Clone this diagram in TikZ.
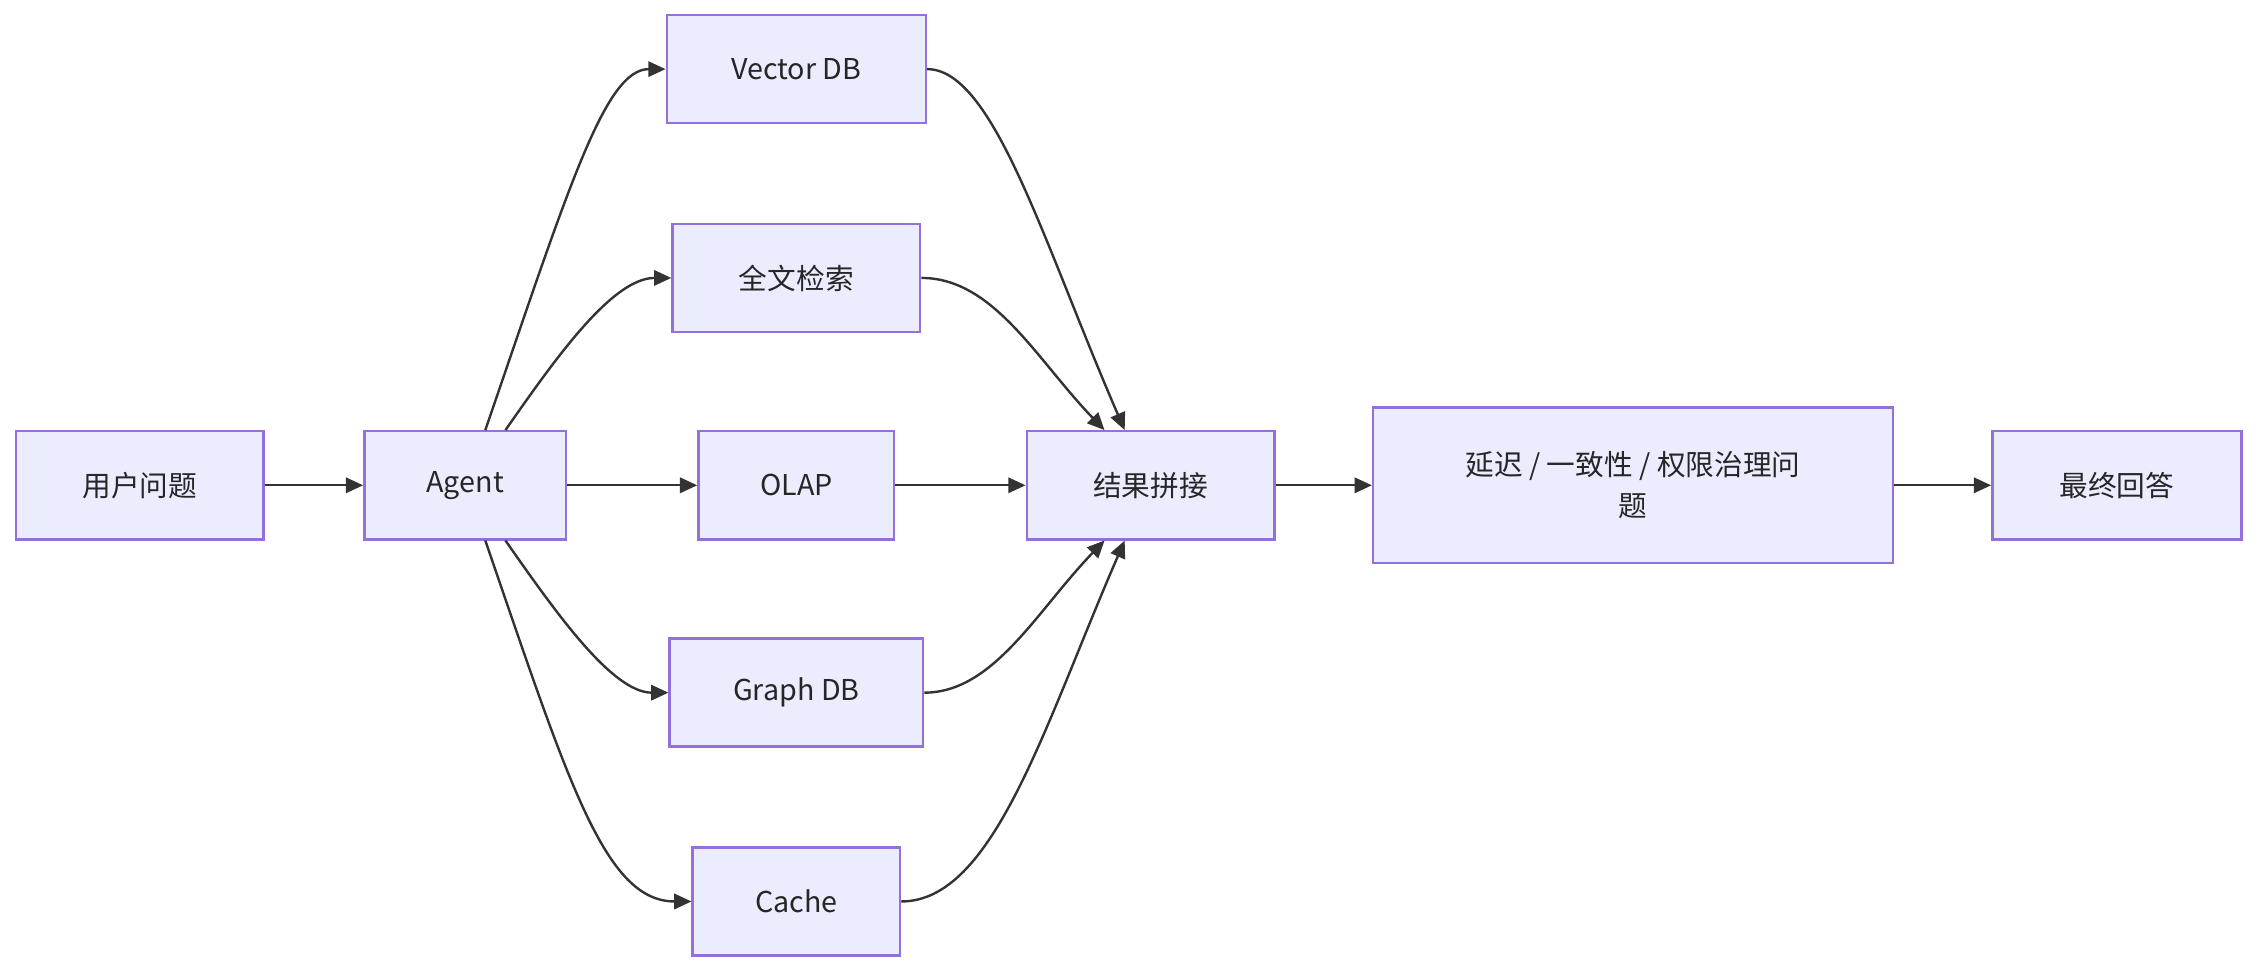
\documentclass[tikz,border=0pt]{standalone}
\usepackage{fontspec}
\setmainfont{Noto Sans CJK SC}
\usetikzlibrary{arrows.meta,calc}
\begin{document}
\begin{tikzpicture}[x=0.3mm,y=-0.3mm,
  box/.style={draw=violet!60!blue!70!white,line width=0.5mm,fill=blue!8,inner sep=0pt,minimum height=22.5mm,font=\fontsize{17}{24}\selectfont,text=black!85},
  ar/.style={draw=black!80,line width=0.5mm,-{Triangle[length=3.6mm,width=3.2mm]}}]
\useasboundingbox (0,0) rectangle (1568,675);
\definecolor{bd}{HTML}{9370DB}\definecolor{bf}{HTML}{ECECFF}
\tikzset{box/.append style={draw=bd,fill=bf}}
\node[box,minimum width=51.6mm] (q) at (97,337) {用户问题};
\node[box,minimum width=42mm] (ag) at (323,337) {Agent};
\node[box,minimum width=54mm] (vd) at (553,48) {Vector DB};
\node[box,minimum width=51.6mm] (ft) at (553,193) {全文检索};
\node[box,minimum width=40.8mm] (ol) at (553,337) {OLAP};
\node[box,minimum width=52.8mm] (gd) at (553,481) {Graph DB};
\node[box,minimum width=43.2mm] (ca) at (553,626) {Cache};
\node[box,minimum width=51.6mm] (jo) at (799,337) {结果拼接};
\node[box,minimum width=108.3mm,minimum height=32.4mm,align=center] (pr) at (1134,337) {延迟 / 一致性 / 权限治理问\\题};
\node[box,minimum width=51.9mm] (fa) at (1470,337) {最终回答};
\coordinate (at1) at ($(ag.north)+(4.2mm,0)$);
\coordinate (at2) at ($(ag.north)+(8.4mm,0)$);
\coordinate (ab1) at ($(ag.south)+(4.2mm,0)$);
\coordinate (ab2) at ($(ag.south)+(8.4mm,0)$);
\coordinate (jt1) at ($(jo.north)+(-9.6mm,0)$);
\coordinate (jt2) at ($(jo.north)+(-5.4mm,0)$);
\coordinate (jb1) at ($(jo.south)+(-9.6mm,0)$);
\coordinate (jb2) at ($(jo.south)+(-5.4mm,0)$);
\draw[ar] (q) -- (ag);
\draw[ar] (ag) -- (ol);
\draw[ar] (ol) -- (jo);
\draw[ar] (jo) -- (pr);
\draw[ar] (pr) -- (fa);
\draw[ar] (at1) .. controls (395,130) and (420,48) .. (vd.west);
\draw[ar] (at2) .. controls (385,250) and (425,193) .. (ft.west);
\draw[ar] (ab1) .. controls (395,544) and (420,626) .. (ca.west);
\draw[ar] (ab2) .. controls (385,424) and (425,481) .. (gd.west);
\draw[ar] (vd.east) .. controls (690,48) and (725,170) .. (jt2);
\draw[ar] (ft.east) .. controls (690,193) and (720,250) .. (jt1);
\draw[ar] (ca.east) .. controls (690,626) and (725,504) .. (jb2);
\draw[ar] (gd.east) .. controls (690,481) and (720,424) .. (jb1);
\end{tikzpicture}
\end{document}
